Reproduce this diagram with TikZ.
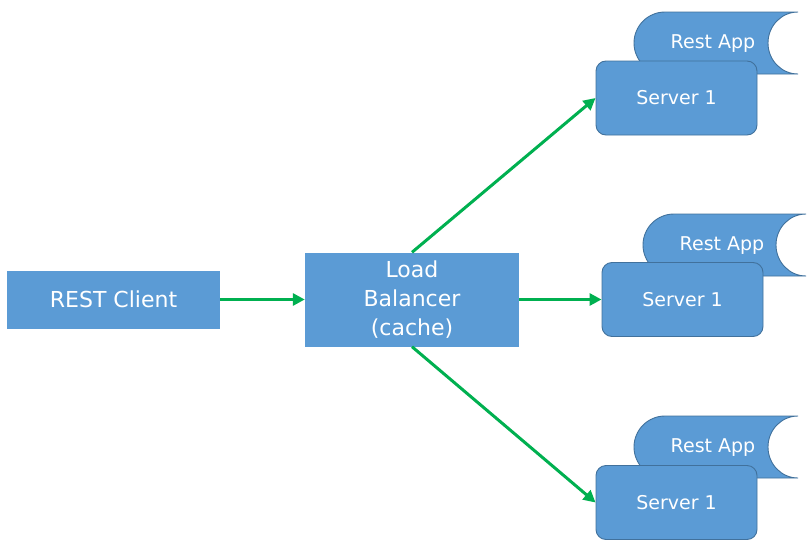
\documentclass[tikz,border=0pt]{standalone}
\usepackage{fontspec}
\setmainfont{DejaVu Sans}
\usetikzlibrary{arrows.meta}
\definecolor{boxblue}{HTML}{5B9BD5}
\definecolor{edgeblue}{HTML}{41719C}
\definecolor{arrowgreen}{HTML}{00B050}
\tikzset{
  plainbox/.style={rectangle, fill=boxblue, inner sep=0pt, text=white, font=\fontsize{22}{29}\selectfont, align=center},
  serverbox/.style={rectangle, rounded corners=10pt, fill=boxblue, draw=edgeblue, line width=0.9pt, inner sep=0pt, minimum width=161pt, minimum height=74pt, text=white, font=\fontsize{19}{23}\selectfont},
  appshape/.style={fill=boxblue, draw=edgeblue, line width=0.9pt},
  applabel/.style={text=white, inner sep=0pt, font=\fontsize{19}{23}\selectfont},
  flow/.style={draw=arrowgreen, line width=3pt, -{Triangle[length=12pt,width=12pt]}}
}
\newcommand{\restapp}[4]{% #1 left x, #2 top y, #3 right x, #4 bottom y
  \path[appshape] (#1+31,#2) -- (#3,#2) arc[start angle=270, end angle=90, x radius=30, y radius=31] -- (#1+31,#4) arc[start angle=90, end angle=270, x radius=31, y radius=31] -- cycle;
}
\begin{document}
\begin{tikzpicture}[x=1pt, y=-1pt]
\useasboundingbox (0,0) rectangle (812,546);
% Rest App shapes
\restapp{634}{12}{798}{74}
\node[applabel] (app1) at (713,44) {Rest App};
\restapp{643}{214}{806}{276}
\node[applabel] (app2) at (722,246) {Rest App};
\restapp{634}{416}{798}{478}
\node[applabel] (app3) at (713,448) {Rest App};
% servers
\node[serverbox] (srv1) at (676.5,98) {Server 1};
\node[serverbox] (srv2) at (682.5,299.5) {Server 1};
\node[serverbox] (srv3) at (676.5,502.5) {Server 1};
% main boxes
\node[plainbox, minimum width=213pt, minimum height=58pt] (client) at (113.5,299.5) {REST Client};
\node[plainbox, minimum width=214pt, minimum height=94pt] (lb) at (412,299.5) {Load\\Balancer\\(cache)};
% connectors
\draw[flow] (client.east) -- (lb.west);
\draw[flow] (lb.north) -- (srv1.west);
\draw[flow] (lb.east) -- (srv2.west);
\draw[flow] (lb.south) -- (srv3.west);
\end{tikzpicture}
\end{document}
